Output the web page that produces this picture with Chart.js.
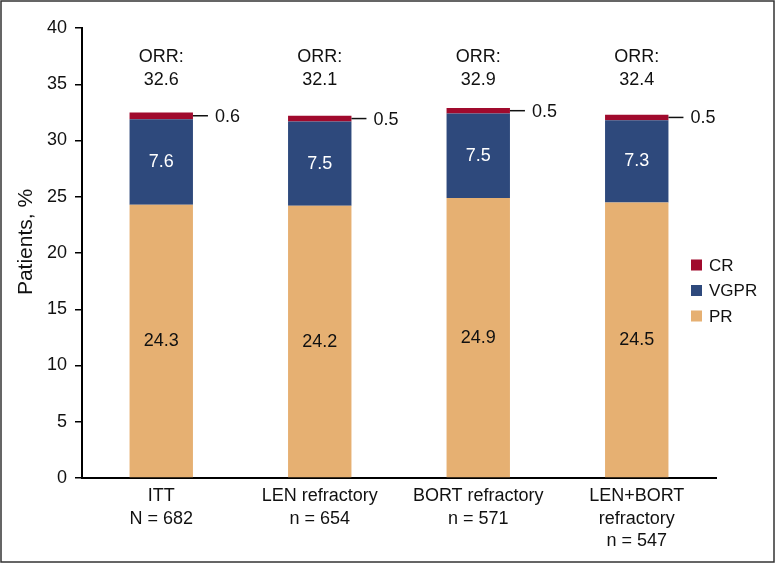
<!DOCTYPE html>
<html><head><meta charset="utf-8">
<script src="https://cdn.jsdelivr.net/npm/chart.js@4/dist/chart.umd.min.js"></script>
<style>html,body{margin:0;padding:0;background:#fff}#wrap{width:775px;height:563px;position:relative}</style>
</head><body><div id="wrap"><canvas id="c" width="775" height="563"></canvas></div>
<script>
const categories = [["ITT","N = 682"],["LEN refractory","n = 654"],["BORT refractory","n = 571"],["LEN+BORT","refractory","n = 547"]];
const prValues = [24.3, 24.2, 24.9, 24.5];
const vgprValues = [7.6, 7.5, 7.5, 7.3];
const crValues = [0.6, 0.5, 0.5, 0.5];
const orrValues = [32.6, 32.1, 32.9, 32.4];
const yTicks = [0,5,10,15,20,25,30,35,40];
const yTitle = 'Patients, %';

const FONT = "'Liberation Sans', Arial, Helvetica, sans-serif";
const COLORS = {PR:'#E6B072', VGPR:'#2E497C', CR:'#A00A2D'};

const labelsPlugin = {
  id:'labels',
  afterDatasetsDraw(chart){
    const ctx = chart.ctx, x = chart.scales.x, y = chart.scales.y;
    ctx.save();
    ctx.textBaseline = 'middle';
    const crMeta = chart.getDatasetMeta(2);
    categories.forEach((c,i)=>{
      const cx = x.getPixelForValue(i);
      ctx.font = '18px ' + FONT;
      ctx.textAlign = 'center';
      ctx.fillStyle = '#111';
      ctx.fillText(prValues[i].toFixed(1), cx, y.getPixelForValue(prValues[i]/2));
      ctx.fillStyle = '#fff';
      ctx.fillText(vgprValues[i].toFixed(1), cx, y.getPixelForValue(prValues[i] + vgprValues[i]/2));
      ctx.fillStyle = '#111';
      ctx.fillText('ORR:', cx, y.getPixelForValue(37.45));
      ctx.fillText(orrValues[i].toFixed(1), cx, y.getPixelForValue(35.4));
      const bar = crMeta.data[i];
      const right = bar.x + bar.width/2;
      const cy = y.getPixelForValue(prValues[i] + vgprValues[i] + crValues[i]/2);
      ctx.strokeStyle = '#111'; ctx.lineWidth = 1.5;
      ctx.beginPath(); ctx.moveTo(right, cy); ctx.lineTo(right+15, cy); ctx.stroke();
      ctx.textAlign = 'left';
      ctx.fillText(crValues[i].toFixed(1), right+22, cy+1);
    });
    const items = [['CR',COLORS.CR],['VGPR',COLORS.VGPR],['PR',COLORS.PR]];
    ctx.font = '17px ' + FONT; ctx.textAlign = 'left';
    items.forEach((it,k)=>{
      const ly = 265 + k*25.5;
      ctx.fillStyle = it[1];
      ctx.fillRect(691, ly-5.5, 11, 11);
      ctx.fillStyle = '#111';
      ctx.fillText(it[0], 709, ly+1);
    });
    // y-axis title
    ctx.save();
    ctx.translate(26, 242);
    ctx.rotate(-Math.PI/2);
    ctx.font = '21px ' + FONT; ctx.textAlign = 'center'; ctx.fillStyle = '#111';
    ctx.fillText(yTitle, 0, 0);
    ctx.restore();
    ctx.strokeStyle = '#333'; ctx.lineWidth = 1.5;
    ctx.strokeRect(1, 1, 773, 561);
    ctx.restore();
  }
};

new Chart(document.getElementById('c'), {
  type:'bar',
  data:{
    labels: categories,
    datasets:[
      {label:'PR', data: prValues, backgroundColor: COLORS.PR},
      {label:'VGPR', data: vgprValues, backgroundColor: COLORS.VGPR},
      {label:'CR', data: crValues, backgroundColor: COLORS.CR}
    ]
  },
  options:{
    responsive:false, animation:false,
    layout:{padding:{left:0, right:59, top:28, bottom:0}},
    plugins:{legend:{display:false}, tooltip:{enabled:false}},
    datasets:{bar:{categoryPercentage:0.8, barPercentage:0.5, borderWidth:0}},
    scales:{
      x:{stacked:true,
        grid:{display:false, drawTicks:false},
        border:{display:true, color:'#000', width:2},
        ticks:{color:'#111', font:{family:FONT, size:18, lineHeight:1.25}, padding:7, maxRotation:0, autoSkip:false},
        afterFit(s){ s.height = 85; }
      },
      y:{stacked:true, min:0, max:40,
        afterBuildTicks(s){ s.ticks = yTicks.map(v=>({value:v})); },
        grid:{display:true, drawOnChartArea:false, drawTicks:true, tickLength:7, color:'#000', lineWidth:1.5},
        border:{display:true, color:'#000', width:2},
        ticks:{color:'#111', font:{family:FONT, size:18}, padding:8},
        title:{display:false},
        afterFit(s){ s.width = 82; }
      }
    }
  },
  plugins:[labelsPlugin]
});
</script></body></html>
